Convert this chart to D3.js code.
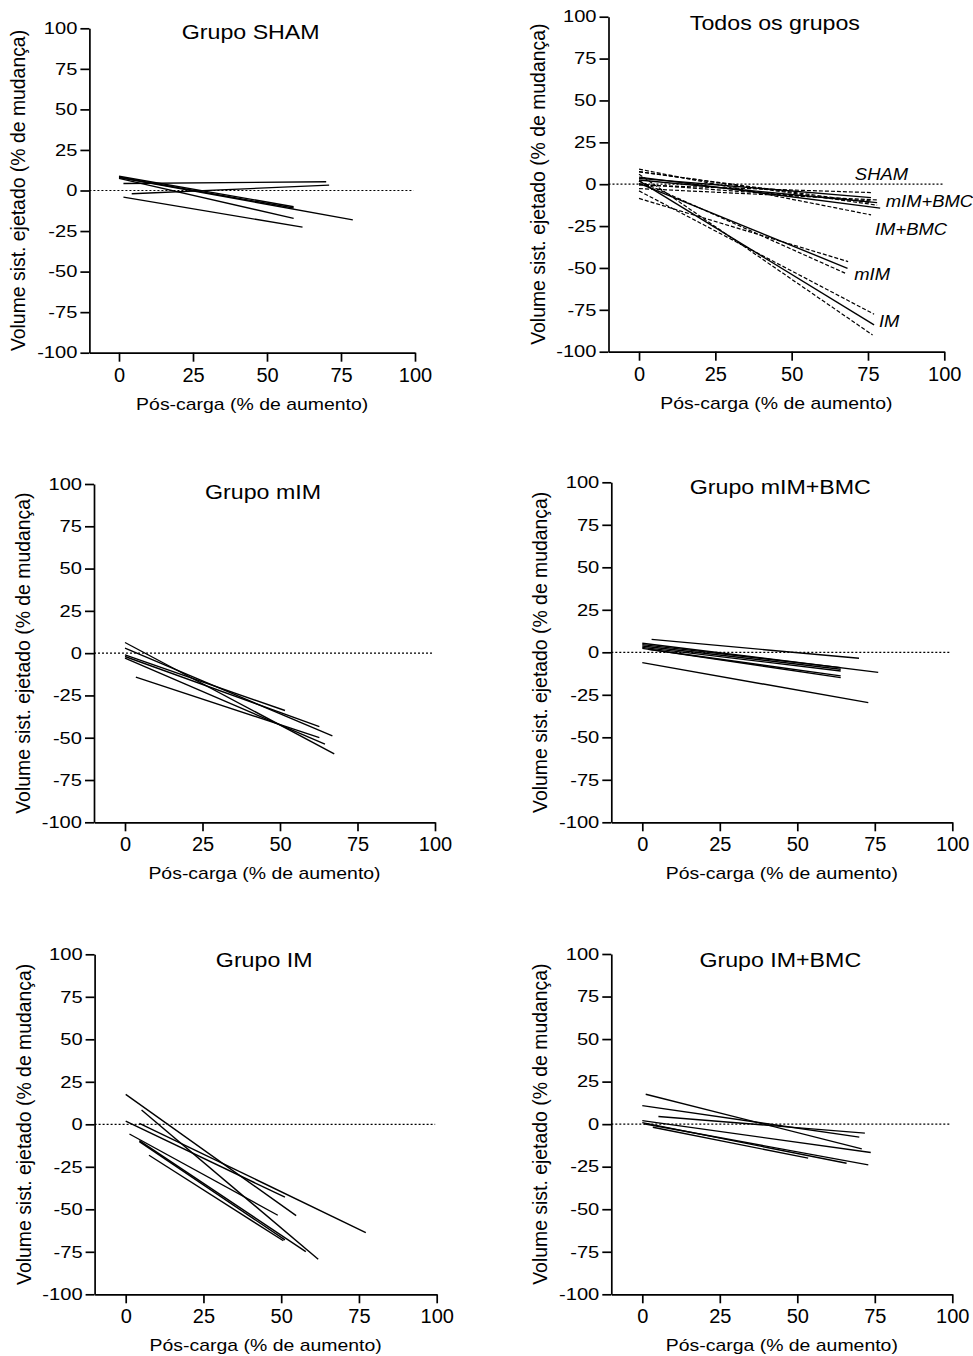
<!DOCTYPE html>
<html>
<head>
<meta charset="utf-8">
<script src="https://cdn.jsdelivr.net/npm/d3@7"></script>
<style>
  body { margin: 0; background: #fff; }
  svg text { font-family: "Liberation Sans", Arial, sans-serif; fill: #000; }
</style>
</head>
<body>
<div id="chart"></div>
<script>
// ---- data: every line is [x1, y1, x2, y2] (% de aumento, % de mudança) ----
var shamLines = [
  [0, 8.8, 59, -10.0],
  [0, 8.2, 59, -10.8],
  [0, 7.5, 59, -17.2],
  [0, 8.0, 79, -18.1],
  [1.5, 4.3, 70, 5.4],
  [4.3, -2.0, 71, 3.3],
  [1.5, -4.1, 62, -22.6]
];
var mimLines = [
  [0, 6.3, 67.5, -59.5],
  [0, 3.0, 66.9, -48.9],
  [0, -1.0, 51.6, -33.9],
  [0, -2.0, 62.7, -43.4],
  [0, -3.0, 64.5, -53.8],
  [3.5, -14.2, 62.7, -49.9]
];
var mimBmcLines = [
  [3.0, 7.6, 69.9, -3.5],
  [0, 5.3, 76.1, -11.8],
  [0, 4.5, 64, -9.0],
  [0, 3.7, 64, -10.0],
  [0, 2.9, 64, -11.0],
  [1.9, 1.8, 64, -13.9],
  [0, 2.3, 64, -14.9],
  [0, -6.1, 72.9, -29.6]
];
var imLines = [
  [0, 17.6, 54.8, -53.7],
  [5.1, 8.4, 61.9, -79.4],
  [0, 1.9, 51.2, -42.9],
  [4.4, 0.6, 77.2, -63.7],
  [1.2, -5.7, 48.9, -53.5],
  [4.4, -9.6, 57.9, -74.9],
  [4.4, -10.2, 51.2, -68.0],
  [7.5, -18.2, 50.7, -68.5]
];
var imBmcLines = [
  [1.1, 17.6, 70.8, -14.5],
  [0, 10.9, 70, -7.6],
  [5.2, 4.5, 71.8, -5.3],
  [0, 2.1, 73.7, -16.7],
  [0, 0.9, 65.9, -23.0],
  [0.5, 0.2, 72.9, -23.9],
  [3.4, -1.8, 53.5, -20.0]
];

// Todos os grupos: regression line (solid) and its two bounds (dashed)
var todosGroups = ["SHAM", "mIM+BMC", "IM+BMC", "mIM", "IM"];
var todosSolid = [
  [0, 3.5, 76, -8.0],
  [0, 2.5, 78, -11.0],
  [0, 4.2, 79, -14.3],
  [0, 0.5, 68.3, -50.2],
  [0, 2.0, 77, -84.0]
];
var todosDashed = [
  [[0, -0.5, 76, -5.0], [0, 7.4, 76, -11.0]],
  [[0, -2.6, 78, -9.4], [0, 7.5, 78, -12.5]],
  [[0, 9.0, 76, -18.3], [0, 0.0, 76, -10.0]],
  [[0, -8.5, 68.5, -46.2], [0, 2.0, 67.5, -53.1]],
  [[0, -4.0, 77, -77.6], [0, 6.0, 76.5, -90.0]]
];

var xTicks = [0, 25, 50, 75, 100];
var yTicks = [-100, -75, -50, -25, 0, 25, 50, 75, 100];
var xDomain = [-10, 100];
var yDomain = [-100, 100];
var xTitle = "Pós-carga (% de aumento)";
var yTitle = "Volume sist. ejetado (% de mudança)";

// ---- layout (pixel boxes of each plot area) ----
var panels = [
  {title: "Grupo SHAM",      lines: shamLines,   left: 89.4,  right: 415,   top: 28.3,  bottom: 352.7, titleY: 39.3},
  {title: "Todos os grupos", lines: null,        left: 608.5, right: 944.3, top: 16.7,  bottom: 351.7, titleY: 30},
  {title: "Grupo mIM",       lines: mimLines,    left: 94,    right: 435,   top: 484,   bottom: 822.3, titleY: 499.3},
  {title: "Grupo mIM+BMC",   lines: mimBmcLines, left: 611.3, right: 952.3, top: 482.3, bottom: 822.3, titleY: 494.3},
  {title: "Grupo IM",        lines: imLines,     left: 94.6,  right: 436.7, top: 954.3, bottom: 1294.3, titleY: 967.3},
  {title: "Grupo IM+BMC",    lines: imBmcLines,  left: 611.3, right: 952.3, top: 954,   bottom: 1294.3, titleY: 967.3}
];
// label anchors for the "Todos" panel, in data units
var todosLabelPos = [[70.7, 2.6], [80.8, -13.4], [77.3, -30.3], [70.5, -57.1], [78.6, -85]];

var svg = d3.select("#chart").append("svg")
    .attr("width", 973)
    .attr("height", 1356);

svg.append("rect").attr("width", 973).attr("height", 1356).attr("fill", "#fff");

function drawSegments(g, x, y, segs, width, dash) {
  g.selectAll(null)
    .data(segs)
    .enter()
    .append("line")
    .attr("x1", d => x(d[0]))
    .attr("y1", d => y(d[1]))
    .attr("x2", d => x(d[2]))
    .attr("y2", d => y(d[3]))
    .attr("stroke", "#000")
    .attr("stroke-width", width)
    .attr("stroke-dasharray", dash);
}

panels.forEach(function(p, i) {
  var x = d3.scaleLinear().domain(xDomain).range([p.left, p.right]);
  var y = d3.scaleLinear().domain(yDomain).range([p.bottom, p.top]);
  var g = svg.append("g");

  // dotted zero line
  g.append("line")
    .attr("x1", x(-10)).attr("x2", x(99.5))
    .attr("y1", y(0)).attr("y2", y(0))
    .attr("stroke", "#000")
    .attr("stroke-width", 1.2)
    .attr("stroke-dasharray", "2,2");

  // y axis
  var ySx = 1.22;
  var yAxisG = g.append("g")
    .attr("transform", `translate(${p.left},0)`)
    .call(d3.axisLeft(y).tickValues(yTicks).tickSize(9).tickSizeOuter(0).tickFormat(d => String(d)));
  yAxisG.selectAll("text")
    .attr("x", -12 / ySx)
    .attr("transform", `scale(${ySx},1)`)
    .style("font-size", "16.5px");

  // x axis
  var xAxisG = g.append("g")
    .attr("transform", `translate(0,${p.bottom})`)
    .call(d3.axisBottom(x).tickValues(xTicks).tickSize(9).tickSizeOuter(0).tickPadding(6).tickFormat(d => String(d)));
  xAxisG.selectAll("text").style("font-size", "20px");

  [yAxisG, xAxisG].forEach(function(a) {
    a.select(".domain").attr("stroke-width", 1.7);
    a.selectAll(".tick line").attr("stroke-width", 1.7);
  });

  // title
  var cx = (p.left + p.right) / 2 - 1.5;
  g.append("text")
    .attr("transform", `translate(${cx},${p.titleY}) scale(1.16,1)`)
    .attr("text-anchor", "middle")
    .style("font-size", "20px")
    .text(p.title);

  // axis titles
  g.append("text")
    .attr("transform", `translate(${(p.left + p.right) / 2},${p.bottom + 57}) scale(1.13,1)`)
    .attr("text-anchor", "middle")
    .style("font-size", "17.2px")
    .text(xTitle);

  g.append("text")
    .attr("transform", `translate(${p.left - 64},${(p.top + p.bottom) / 2}) rotate(-90)`)
    .attr("text-anchor", "middle")
    .style("font-size", "19.4px")
    .text(yTitle);

  // data lines
  if (p.lines) {
    drawSegments(g, x, y, p.lines, 1.4, null);
  } else {
    todosGroups.forEach(function(name, k) {
      drawSegments(g, x, y, todosDashed[k], 1.2, "4,2");
      drawSegments(g, x, y, [todosSolid[k]], 1.4, null);
      g.append("text")
        .attr("transform", `translate(${x(todosLabelPos[k][0])},${y(todosLabelPos[k][1])}) scale(1.13,1)`)
        .style("font-size", "16.3px")
        .style("font-style", "italic")
        .text(name);
    });
  }
});
</script>
</body>
</html>
